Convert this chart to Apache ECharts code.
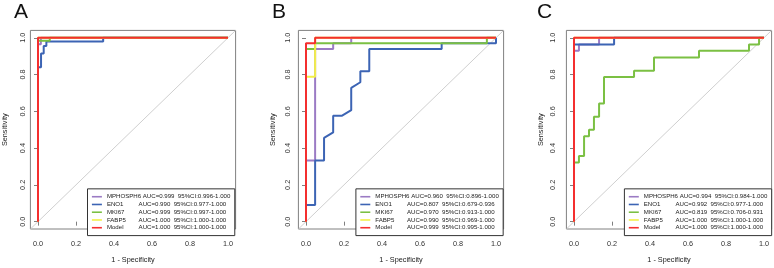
<!DOCTYPE html>
<html>
<head>
<meta charset="utf-8">
<script src="https://cdn.jsdelivr.net/npm/echarts@6.0.0/dist/echarts.min.js"></script>
<style>
html,body{margin:0;padding:0;background:#fff;}
#chart{width:774px;height:268px;}
</style>
</head>
<body>
<div id="chart"></div>
<script>
// ---------- data ----------
const panelLetters = ['A', 'B', 'C'];
const markerNames = ['MPHOSPH6', 'ENO1', 'MKI67', 'FABP5', 'Model'];
const tickValues = [0, 0.2, 0.4, 0.6, 0.8, 1.0];
const tickLabels = ['0.0', '0.2', '0.4', '0.6', '0.8', '1.0'];
const xTitle = '1 - Specificity';
const yTitle = 'Sensitivity';
const diagonal = [[-0.04, -0.04], [1.04, 1.04]];

// [1 - specificity, sensitivity]
const A_MPHOSPH6 = [[0,0],[0,0.965],[0.015,0.965],[0.015,1],[1,1]];
const A_ENO1 = [[0,0],[0,0.84],[0.016,0.84],[0.016,0.914],[0.03,0.914],[0.03,0.955],[0.044,0.955],[0.044,0.98],[0.343,0.98],[0.343,1],[1,1]];
const A_MKI67 = [[0,0],[0,0.984],[0.062,0.984],[0.062,1],[1,1]];
const A_FABP5 = [[0,0],[0,1],[1,1]];
const A_Model = [[0,0],[0,1],[1,1]];

const B_MPHOSPH6 = [[0,0],[0,0.333],[0.048,0.333],[0.048,0.939],[0.143,0.939],[0.143,0.970],[0.238,0.970],[0.238,1],[1,1]];
const B_ENO1 = [[0,0],[0,0.091],[0.048,0.091],[0.048,0.333],[0.095,0.333],[0.095,0.455],[0.143,0.485],[0.143,0.576],[0.190,0.576],[0.238,0.606],[0.238,0.727],[0.286,0.758],[0.286,0.818],[0.333,0.818],[0.333,0.939],[0.714,0.939],[0.714,0.970],[1,0.970],[1,1]];
const B_MKI67 = [[0,0],[0,0.939],[0.048,0.939],[0.048,0.970],[0.952,0.970],[0.952,1],[1,1]];
const B_FABP5 = [[0,0],[0,0.788],[0.048,0.788],[0.048,1],[1,1]];
const B_Model = [[0,0],[0,0.970],[0.048,0.970],[0.048,1],[1,1]];

const C_MPHOSPH6 = [[0,0],[0,0.929],[0.026,0.929],[0.026,0.964],[0.132,0.964],[0.132,1],[1,1]];
const C_ENO1 = [[0,0],[0,0.964],[0.211,0.964],[0.211,1],[1,1]];
const C_MKI67 = [[0,0],[0,0.321],[0.026,0.321],[0.026,0.357],[0.053,0.357],[0.053,0.464],[0.079,0.464],[0.079,0.5],[0.105,0.5],[0.105,0.571],[0.132,0.571],[0.132,0.643],[0.158,0.643],[0.158,0.786],[0.316,0.786],[0.316,0.821],[0.421,0.821],[0.421,0.893],[0.658,0.893],[0.658,0.929],[0.921,0.929],[0.921,0.964],[0.974,0.964],[0.974,1],[1,1]];
const C_FABP5 = [[0,0],[0,1],[1,1]];
const C_Model = [[0,0],[0,1],[1,1]];

const aucA = ['0.999', '0.990', '0.999', '1.000', '1.000'];
const ciA  = ['0.996-1.000', '0.977-1.000', '0.997-1.000', '1.000-1.000', '1.000-1.000'];
const aucB = ['0.960', '0.807', '0.970', '0.990', '0.999'];
const ciB  = ['0.896-1.000', '0.679-0.936', '0.913-1.000', '0.969-1.000', '0.995-1.000'];
const aucC = ['0.994', '0.992', '0.819', '1.000', '1.000'];
const ciC  = ['0.984-1.000', '0.977-1.000', '0.706-0.931', '1.000-1.000', '1.000-1.000'];

// ---------- styling / layout ----------
const colors = ['#9B7BC4', '#3C64B4', '#7BC043', '#F2EE4A', '#F42F2F'];
const FONT = '"Liberation Sans", Arial, Helvetica, sans-serif';
// grid boxes chosen so that data values 0 and 1 land on whole pixels (crisp 2px lines)
const gridLeft = [30.4, 298.4, 566.4];
const gridTop = 30.4, gridW = 205.2, gridH = 205.2;
const yLabelMargin = [4, 7, 10];
const letterLeft = [14, 272, 537];
const legendLeft = [87.5, 355.9, 624.4];
const LFS = 6.1;

const curves = [
  [A_MPHOSPH6, A_ENO1, A_MKI67, A_FABP5, A_Model],
  [B_MPHOSPH6, B_ENO1, B_MKI67, B_FABP5, B_Model],
  [C_MPHOSPH6, C_ENO1, C_MKI67, C_FABP5, C_Model]
];
const aucs = [aucA, aucB, aucC];
const cis = [ciA, ciB, ciC];

const grids = [], xAxes = [], yAxes = [], series = [], legends = [], titles = [];
const axisCommon = {
  type: 'value', min: -0.04, max: 1.04,
  axisLine: { show: false },
  splitLine: { show: false },
  axisTick: { show: true, length: 4, customValues: tickValues, lineStyle: { color: '#808080', width: 1 } },
  nameTextStyle: { fontSize: 7.3, fontFamily: FONT, color: '#222' }
};
const labelFmt = v => {
  const idx = tickValues.findIndex(t => Math.abs(t - v) < 1e-9);
  return idx >= 0 ? tickLabels[idx] : '';
};
const legendTextStyle = { fontSize: LFS, fontFamily: FONT, color: '#222', lineHeight: 7.75 };

for (let i = 0; i < 3; i++) {
  grids.push({ left: gridLeft[i], top: gridTop, width: gridW, height: gridH, show: true,
    borderColor: '#808080', borderWidth: 1, backgroundColor: 'transparent' });
  xAxes.push(Object.assign({}, axisCommon, {
    gridIndex: i, position: 'bottom',
    name: xTitle, nameLocation: 'middle', nameGap: 27,
    axisLabel: { customValues: tickValues, formatter: labelFmt, fontSize: 7.3, fontFamily: FONT, color: '#333', margin: 11 }
  }));
  yAxes.push(Object.assign({}, axisCommon, {
    gridIndex: i, position: 'left',
    name: yTitle, nameLocation: 'middle', nameGap: 22, nameRotate: 90,
    axisLabel: { customValues: tickValues, formatter: labelFmt, fontSize: 7.3, fontFamily: FONT, color: '#333', margin: yLabelMargin[i], rotate: 90 }
  }));
  series.push({ type: 'line', xAxisIndex: i, yAxisIndex: i, data: diagonal, showSymbol: false, silent: true,
    lineStyle: { color: '#cfcfcf', width: 1 }, z: 1, emphasis: { disabled: true } });
  for (let k = 0; k < markerNames.length; k++) {
    series.push({ type: 'line', name: markerNames[k], xAxisIndex: i, yAxisIndex: i,
      data: curves[i][k], showSymbol: false, symbol: 'none', clip: true, silent: true,
      emphasis: { disabled: true },
      color: colors[k], lineStyle: { color: colors[k], width: 2, opacity: 1 }, z: 2 + k });
  }
  const aucArr = aucs[i], ciArr = cis[i];
  legends.push({
    data: markerNames, orient: 'vertical', left: legendLeft[i], top: 188.85,
    icon: 'rect', itemWidth: 10, itemHeight: 1.6, itemGap: 0,
    padding: [4, 4.4, 4, 4.4], borderColor: '#333', borderWidth: 1, backgroundColor: '#fff',
    selectedMode: false, z: 10,
    textStyle: Object.assign({}, legendTextStyle, {
      rich: {
        n1: Object.assign({ width: 35.9 }, legendTextStyle),
        n:  Object.assign({ width: 31.7 }, legendTextStyle),
        t:  Object.assign({}, legendTextStyle)
      }
    }),
    formatter: function (name) {
      const k = markerNames.indexOf(name);
      return '{' + (k === 0 ? 'n1' : 'n') + '|' + name + '}' +
             '{t|AUC=' + aucArr[k] + '  95%CI:' + ciArr[k] + '}';
    }
  });
  titles.push({ text: panelLetters[i], left: letterLeft[i], top: 2, padding: 0,
    textStyle: { fontSize: 21, fontWeight: 'normal', fontFamily: FONT, color: '#111' } });
}

const chart = echarts.init(document.getElementById('chart'), null, { renderer: 'canvas', width: 774, height: 268 });
chart.setOption({
  animation: false,
  backgroundColor: '#ffffff',
  title: titles,
  grid: grids,
  xAxis: xAxes,
  yAxis: yAxes,
  legend: legends,
  series: series
});
</script>
</body>
</html>
